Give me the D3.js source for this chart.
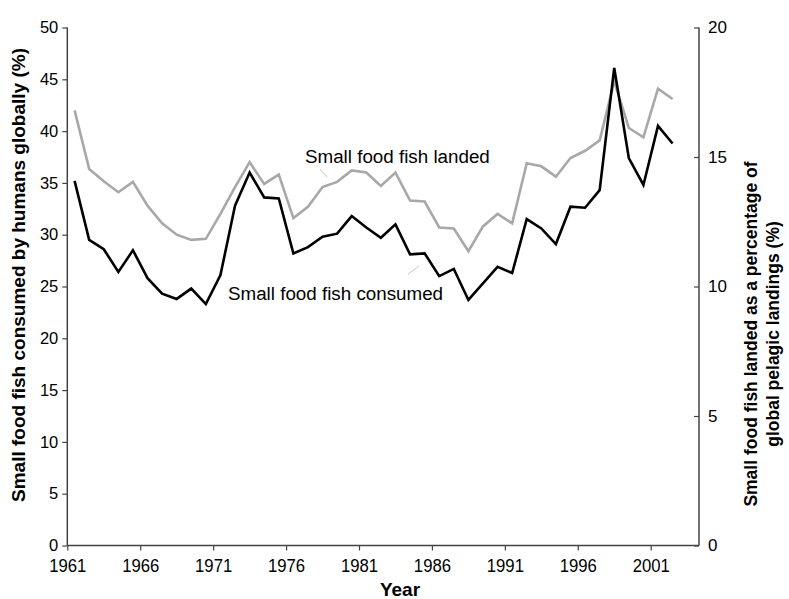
<!DOCTYPE html>
<html>
<head>
<meta charset="utf-8">
<script src="https://cdn.jsdelivr.net/npm/d3@7/dist/d3.min.js"></script>
<style>
  html, body { margin: 0; padding: 0; background: #fff; }
  svg { display: block; }
  text { font-family: "Liberation Sans", Arial, sans-serif; fill: #000; }
</style>
</head>
<body>
<svg id="chart" width="789" height="599"></svg>
<script>
// Years covered by the two series
const years = d3.range(1961, 2003);

// Small food fish consumed by humans globally (%), left axis
const consumed = [
  35.2, 29.5, 28.6, 26.4, 28.5, 25.8, 24.3, 23.8, 24.8, 23.3,
  26.1, 32.8, 36.0, 33.6, 33.5, 28.2, 28.8, 29.8, 30.1, 31.8,
  30.7, 29.7, 31.0, 28.1, 28.2, 26.0, 26.7, 23.7, 25.3, 26.9,
  26.3, 31.5, 30.6, 29.1, 32.7, 32.6, 34.3, 46.1, 37.4, 34.8,
  40.5, 38.8
];

// Small food fish landed as a percentage of global pelagic landings (%), right axis
const landed = [
  16.80, 14.54, 14.06, 13.64, 14.04, 13.12, 12.44, 12.00, 11.80, 11.84,
  12.80, 13.84, 14.80, 13.96, 14.32, 12.64, 13.08, 13.84, 14.04, 14.48,
  14.40, 13.88, 14.40, 13.32, 13.28, 12.28, 12.24, 11.36, 12.32, 12.80,
  12.44, 14.76, 14.64, 14.24, 14.96, 15.24, 15.64, 17.92, 16.12, 15.76,
  17.64, 17.24
];

const xTicks = [1961, 1966, 1971, 1976, 1981, 1986, 1991, 1996, 2001];
const leftTicks = [0, 5, 10, 15, 20, 25, 30, 35, 40, 45, 50];
const rightTicks = [0, 5, 10, 15, 20];

const svg = d3.select("#chart");
const plot = { left: 67.3, right: 699, top: 27.5, bottom: 545.5 };

// Category axis: tick marks sit on year boundaries, points at the middle of each year
const x = d3.scaleLinear()
  .domain([1961, 2001])
  .range([plot.left, plot.left + 40 * 14.585]);
const yL = d3.scaleLinear().domain([0, 50]).range([plot.bottom, plot.top]);
const yR = d3.scaleLinear().domain([0, 20]).range([plot.bottom, plot.top]);

const axisColor = "#444";

// X axis
const gx = svg.append("g")
  .attr("transform", `translate(0,${plot.bottom})`);
gx.append("line")
  .attr("x1", plot.left).attr("x2", plot.right)
  .attr("stroke", axisColor).attr("stroke-width", 1.5);
gx.call(d3.axisBottom(x).tickValues(xTicks).tickFormat(d3.format("d")).tickSize(5).tickPadding(8))
  .call(g => g.select(".domain").remove());
gx.selectAll(".tick line").attr("stroke", axisColor).attr("stroke-width", 1.2);
gx.selectAll(".tick text")
  .attr("font-size", 19)
  .attr("font-family", "Liberation Sans, Arial, sans-serif")
  .attr("fill", "#000")
  .attr("transform", "scale(0.88,1)");

// Left axis
const gl = svg.append("g").attr("transform", `translate(${plot.left},0)`);
gl.call(d3.axisLeft(yL).tickValues(leftTicks).tickSize(5).tickPadding(4));
gl.select(".domain").attr("stroke", axisColor).attr("stroke-width", 1.5)
  .attr("d", `M0,${plot.top}V${plot.bottom}`);
gl.selectAll(".tick line").attr("stroke", axisColor).attr("stroke-width", 1.2);
gl.selectAll(".tick text")
  .attr("font-size", 16.5)
  .attr("font-family", "Liberation Sans, Arial, sans-serif")
  .attr("fill", "#000");

// Right axis (ticks point into the plot)
const gr = svg.append("g").attr("transform", `translate(${plot.right},0)`);
gr.call(d3.axisRight(yR).tickValues(rightTicks).tickSize(0).tickPadding(9));
gr.select(".domain").attr("stroke", axisColor).attr("stroke-width", 1.5)
  .attr("d", `M0,${plot.top}V${plot.bottom}`);
gr.selectAll(".tick").append("line")
  .attr("x1", -5).attr("x2", 0)
  .attr("stroke", axisColor).attr("stroke-width", 1.2);
gr.selectAll(".tick text")
  .attr("font-size", 17)
  .attr("font-family", "Liberation Sans, Arial, sans-serif")
  .attr("fill", "#000");

// Series lines
const lineConsumed = d3.line()
  .x((d, i) => x(years[i] + 0.5))
  .y(d => yL(d));
const lineLanded = d3.line()
  .x((d, i) => x(years[i] + 0.5))
  .y(d => yR(d));

svg.append("path")
  .datum(landed)
  .attr("fill", "none")
  .attr("stroke", "#a8a8a8")
  .attr("stroke-width", 2.6)
  .attr("d", lineLanded);

svg.append("path")
  .datum(consumed)
  .attr("fill", "none")
  .attr("stroke", "#000")
  .attr("stroke-width", 2.6)
  .attr("d", lineConsumed);

// Series labels with short leader lines
svg.append("text")
  .attr("x", 305).attr("y", 163)
  .attr("font-size", 18.8)
  .text("Small food fish landed");
svg.append("line")
  .attr("x1", 320).attr("y1", 169).attr("x2", 327).attr("y2", 177)
  .attr("stroke", "#c8c8c8").attr("stroke-width", 1);

svg.append("text")
  .attr("x", 228).attr("y", 300)
  .attr("font-size", 18.8)
  .text("Small food fish consumed");
svg.append("line")
  .attr("x1", 408).attr("y1", 274).attr("x2", 419).attr("y2", 266)
  .attr("stroke", "#c8c8c8").attr("stroke-width", 1);

// Axis titles
svg.append("text")
  .attr("x", 400).attr("y", 596)
  .attr("text-anchor", "middle")
  .attr("font-weight", "bold")
  .attr("font-size", 19)
  .text("Year");

svg.append("text")
  .attr("transform", "translate(25,275) rotate(-90)")
  .attr("text-anchor", "middle")
  .attr("font-weight", "bold")
  .attr("font-size", 19)
  .text("Small food fish consumed by humans globally (%)");

svg.append("text")
  .attr("transform", "translate(757,334) rotate(-90)")
  .attr("text-anchor", "middle")
  .attr("font-weight", "bold")
  .attr("font-size", 17.5)
  .text("Small food fish landed as a percentage of");
svg.append("text")
  .attr("transform", "translate(779,334) rotate(-90)")
  .attr("text-anchor", "middle")
  .attr("font-weight", "bold")
  .attr("font-size", 17.5)
  .text("global pelagic landings (%)");
</script>
</body>
</html>
